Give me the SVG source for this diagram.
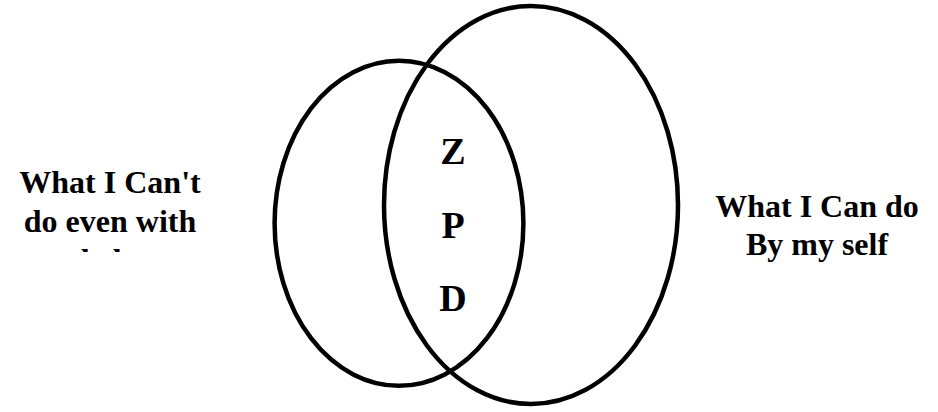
<svg xmlns="http://www.w3.org/2000/svg" width="938" height="412" viewBox="0 0 938 412">
<style>
.ell{fill:none;stroke:#000;stroke-width:4.5}
.lbl{font-family:"Liberation Serif","Times New Roman",serif;font-weight:bold;font-size:32px;fill:#000;text-anchor:middle}
.zpd{font-family:"Liberation Serif","Times New Roman",serif;font-weight:bold;font-size:38px;fill:#000;text-anchor:middle}
</style>
<defs>
<clipPath id="clipL"><rect x="0" y="140" width="260" height="112"/></clipPath>
</defs>
<rect width="938" height="412" fill="#fff"/>
<g id="left-circle"><ellipse class="ell" cx="399" cy="223.3" rx="124.4" ry="162.5"/></g>
<g id="right-circle"><ellipse class="ell" cx="531" cy="205" rx="147" ry="199"/></g>
<g id="zpd">
<text class="zpd" x="453" y="164">Z</text>
<text class="zpd" x="453" y="238">P</text>
<text class="zpd" x="453" y="311">D</text>
</g>
<g id="left-label" clip-path="url(#clipL)">
<text class="lbl" x="110" y="193">What I Can't</text>
<text class="lbl" x="110" y="232">do even with</text>
<text class="lbl" x="110" y="271">help</text>
</g>
<g id="right-label">
<text class="lbl" x="817" y="217">What I Can do</text>
<text class="lbl" x="817" y="255">By my self</text>
</g>
</svg>
